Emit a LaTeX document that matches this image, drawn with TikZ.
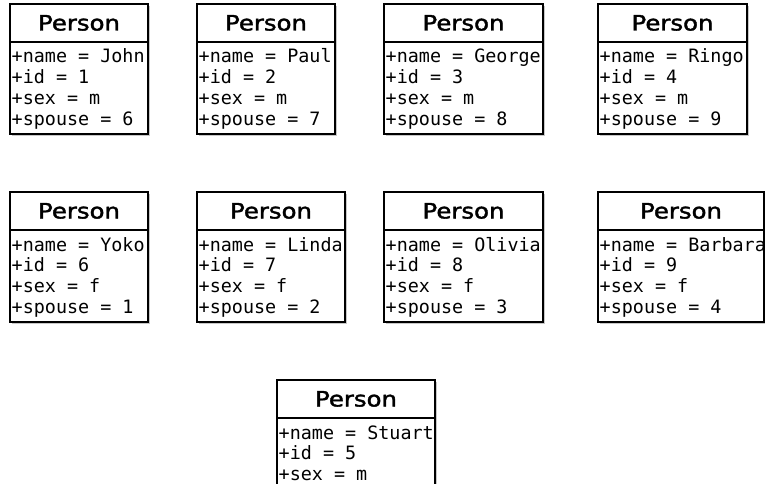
\documentclass[tikz,border=0pt]{standalone}
\usepackage{fontspec}
\setmainfont{DejaVu Sans}
\newfontfamily\monof{DejaVu Sans Mono}
\newfontfamily\titlef[FakeBold=1.6]{DejaVu Sans}
\tikzset{
  boxline/.style={line width=2pt, draw=black, fill=white},
  shadowbox/.style={fill=black!22},
  titletext/.style={inner sep=0pt, anchor=base, xscale=1.15, font=\titlef\fontsize{21.2}{24}\selectfont},
  attrtext/.style={inner sep=0pt, anchor=base west, font=\monof\fontsize{18.4}{20}\selectfont}
}
\newcommand\personbox[6]{%
  \fill[shadowbox] (#2+2,#3+2) rectangle (#4+2,#5+2);
  \filldraw[boxline] (#2,#3) rectangle (#4,#5);
  \draw[line width=2pt] (#2,#3+38) -- (#4,#3+38);
  \node[titletext] (#1-title) at ({(#2+#4)/2},#3+26.5) {Person};
  \foreach \l [count=\i] in {#6} {
    \node[attrtext] (#1-attr-\i) at (#2+1.5,{#3+59+20.7*(\i-1)}) {\l};
  }
}
\begin{document}
\begin{tikzpicture}[x=1pt,y=-1pt]
\useasboundingbox (0,0) rectangle (765,484);
\clip (0,0) rectangle (765,484);
\fill[white] (0,0) rectangle (765,484);
\personbox{john}{10}{4}{148}{134}{+name = John, +id = 1, +sex = m, +spouse = 6}
\personbox{paul}{197}{4}{335}{134}{+name = Paul, +id = 2, +sex = m, +spouse = 7}
\personbox{george}{384}{4}{543}{134}{+name = George, +id = 3, +sex = m, +spouse = 8}
\personbox{ringo}{598}{4}{747}{134}{+name = Ringo, +id = 4, +sex = m, +spouse = 9}
\personbox{yoko}{10}{192}{148}{322}{+name = Yoko, +id = 6, +sex = f, +spouse = 1}
\personbox{linda}{197}{192}{345}{322}{+name = Linda, +id = 7, +sex = f, +spouse = 2}
\personbox{olivia}{384}{192}{543}{322}{+name = Olivia, +id = 8, +sex = f, +spouse = 3}
\personbox{barbara}{598}{192}{764}{322}{+name = Barbara, +id = 9, +sex = f, +spouse = 4}
\personbox{stuart}{277}{380}{435}{510}{+name = Stuart, +id = 5, +sex = m}
\end{tikzpicture}
\end{document}
